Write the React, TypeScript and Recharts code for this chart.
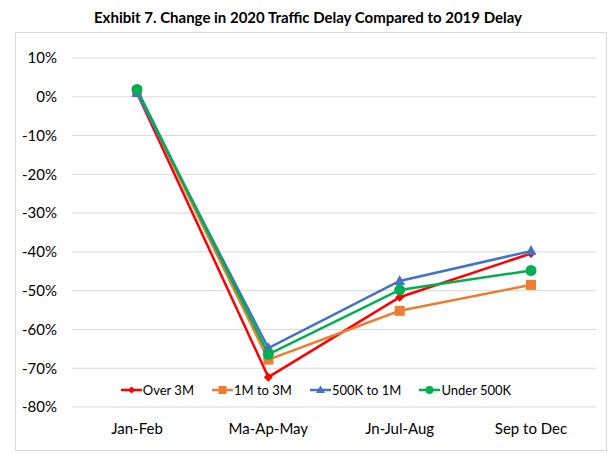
import React from 'react';
import { LineChart, Line, XAxis, YAxis, CartesianGrid } from 'recharts';

const periods = ['Jan-Feb', 'Ma-Ap-May', 'Jn-Jul-Aug', 'Sep to Dec'];
const over3M = [1.0, -72.3, -51.7, -40.4];
const m1to3M = [1.5, -67.8, -55.2, -48.5];
const k500to1M = [1.0, -64.8, -47.5, -39.8];
const under500K = [1.9, -66.4, -49.8, -44.8];
const yTicks = [10, 0, -10, -20, -30, -40, -50, -60, -70, -80];

const data = periods.map((p, i) => ({
  period: p,
  over3M: over3M[i],
  m1to3M: m1to3M[i],
  k500to1M: k500to1M[i],
  under500K: under500K[i],
}));

const FONT = 'Lato, "Open Sans", sans-serif';

const series = [
  { key: 'over3M', name: 'Over 3M', color: '#FF0000', shape: 'diamond' },
  { key: 'm1to3M', name: '1M to 3M', color: '#ED7D31', shape: 'square' },
  { key: 'k500to1M', name: '500K to 1M', color: '#4472C4', shape: 'triangle' },
  { key: 'under500K', name: 'Under 500K', color: '#00B050', shape: 'circle' },
];

function markerPath(shape: string, cx: number, cy: number, color: string) {
  if (shape === 'diamond') {
    const s = 4.5;
    return <path d={`M${cx},${cy - s}L${cx + s},${cy}L${cx},${cy + s}L${cx - s},${cy}Z`} fill={color} />;
  }
  if (shape === 'square') {
    return <rect x={cx - 5} y={cy - 5} width={10} height={10} fill={color} />;
  }
  if (shape === 'triangle') {
    return <path d={`M${cx},${cy - 6}L${cx + 5.5},${cy + 4}L${cx - 5.5},${cy + 4}Z`} fill={color} />;
  }
  return <circle cx={cx} cy={cy} r={5.5} fill={color} />;
}

const makeDot = (shape: string, color: string) => (props: any) => (
  <g key={`${shape}-${props.index}`}>{markerPath(shape, props.cx, props.cy, color)}</g>
);

const LegendBox = () => (
  <div
    style={{
      position: 'absolute',
      top: 381,
      left: 16,
      width: 600,
      display: 'flex',
      justifyContent: 'center',
      gap: 18,
      fontFamily: FONT,
      fontSize: 13,
      lineHeight: '18px',
      color: '#000',
    }}
  >
    {series.map((s) => (
      <div key={s.key} style={{ display: 'flex', alignItems: 'center' }}>
        <svg width={21} height={14} style={{ marginRight: 1 }}>
          <line x1={0} y1={7} x2={21} y2={7} stroke={s.color} strokeWidth={2.5} />
          {s.shape === 'circle' ? (
            <circle cx={10.5} cy={7} r={4} fill={s.color} />
          ) : s.shape === 'square' ? (
            <rect x={6.5} y={3} width={8} height={8} fill={s.color} />
          ) : s.shape === 'triangle' ? (
            <path d="M10.5,2.5L15,10L6,10Z" fill={s.color} />
          ) : (
            <path d="M10.5,3.5L14,7L10.5,10.5L7,7Z" fill={s.color} />
          )}
        </svg>
        <span>{s.name}</span>
      </div>
    ))}
  </div>
);

export default function App() {
  return (
    <div style={{ position: 'absolute', left: 0, top: 0, width: 614, height: 453, background: '#fff' }}>
      <div
        style={{
          position: 'absolute',
          top: 8,
          left: 0,
          width: 616,
          textAlign: 'center',
          fontFamily: FONT,
          fontWeight: 700,
          fontSize: 15,
          color: '#000',
        }}
      >
        Exhibit 7. Change in 2020 Traffic Delay Compared to 2019 Delay
      </div>
      <div
        style={{
          position: 'absolute',
          left: 15,
          top: 32,
          width: 590,
          height: 417,
          border: '1px solid #d9d9d9',
        }}
      >
        <LineChart width={590} height={417} data={data} margin={{ top: 25, right: 10, bottom: 13, left: 0 }}>
          <CartesianGrid vertical={false} stroke="#d9d9d9" strokeWidth={1} />
          <XAxis
            dataKey="period"
            height={30}
            axisLine={false}
            tickLine={false}
            tickSize={6}
            tickMargin={10}
            padding={{ left: 65, right: 65 }}
            tick={{ fill: '#000', fontSize: 15, fontFamily: FONT }}
            interval={0}
          />
          <YAxis
            width={56}
            domain={[-80, 10]}
            ticks={yTicks}
            axisLine={false}
            tickLine={false}
            tickSize={6}
            tickMargin={9}
            tickFormatter={(v: number) => `${v}%`}
            tick={{ fill: '#000', fontSize: 15, fontFamily: FONT }}
          />
          {series.map((s) => (
            <Line
              key={s.key}
              dataKey={s.key}
              name={s.name}
              type="linear"
              stroke={s.color}
              strokeWidth={2.5}
              dot={makeDot(s.shape, s.color)}
              activeDot={false}
              isAnimationActive={false}
            />
          ))}
        </LineChart>
      </div>
      <LegendBox />
    </div>
  );
}
